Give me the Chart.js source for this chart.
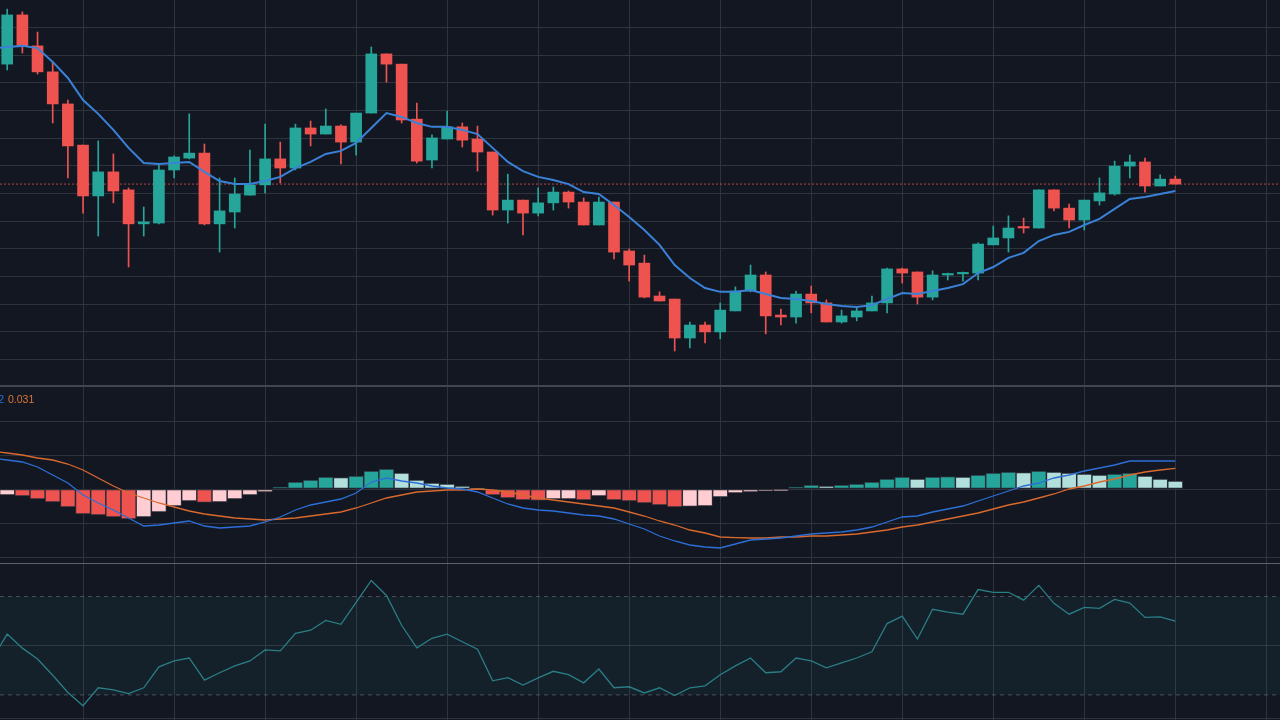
<!DOCTYPE html>
<html><head><meta charset="utf-8">
<script src="https://cdn.jsdelivr.net/npm/chart.js@4.4.1/dist/chart.umd.min.js"></script>
<style>
html,body{margin:0;padding:0;background:#131722;width:1280px;height:720px;overflow:hidden;}
canvas{position:absolute;left:0;display:block;}
.sep{position:absolute;left:0;width:1280px;}
</style></head><body>
<canvas id="main" width="1280" height="385" style="top:0;width:1280px;height:385px"></canvas>
<div class="sep" style="top:385px;height:2px;background:#434651"></div>
<canvas id="macd" width="1280" height="176" style="top:387px;width:1280px;height:176px"></canvas>
<div class="sep" style="top:563px;height:1px;background:#5d606b"></div>
<canvas id="rsi" width="1280" height="156" style="top:564px;width:1280px;height:156px"></canvas>
<script>
// ---- candle data (index 0..77) ----
const open = [176.8,194.6,183.4,174.0,162.4,147.5,129.1,137.8,131.3,119.0,
119.3,138.5,142.8,144.6,119.0,123.3,129.4,133.1,142.5,139.2,
153.7,151.5,154.4,148.6,159.1,180.5,176.8,156.9,142.1,149.7,
154.1,149.7,145.0,124.0,127.6,122.9,126.6,130.5,126.9,118.6,
126.9,109.2,104.8,92.9,91.8,77.7,82.4,79.9,87.5,94.7,
100.5,86.0,85.3,93.6,90.4,83.5,85.3,87.5,90.4,102.7,
101.6,92.5,100.5,100.9,101.2,111.4,113.9,117.9,117.5,131.3,
124.7,120.4,127.3,129.8,139.9,141.4,132.7,135.2];
const high = [196.7,195.7,188.4,177.6,163.8,147.5,149.0,144.3,132.0,125.1,
140.3,143.6,158.8,147.9,135.6,135.6,145.7,155.1,148.6,155.1,
156.2,160.6,154.8,159.1,183.0,180.5,176.8,162.7,151.2,159.8,
155.5,154.4,145.0,137.0,127.6,132.0,132.3,130.9,128.4,128.7,
126.9,109.9,107.7,94.4,91.8,83.5,83.5,90.4,96.2,104.1,
101.6,88.2,94.7,96.5,91.5,87.8,88.6,92.9,103.0,103.0,
101.6,102.0,101.2,101.6,112.1,118.2,121.9,121.1,131.3,131.3,
126.2,127.6,135.6,141.7,143.9,142.8,136.7,136.3];
const low = [174.7,180.8,173.2,155.5,135.6,122.9,114.6,126.6,103.4,114.6,
119.0,135.6,142.5,118.6,108.8,117.5,129.4,130.2,133.8,138.5,
147.2,151.5,140.7,143.9,159.1,170.3,155.5,141.0,139.2,149.7,
146.8,138.1,122.2,119.3,115.0,121.9,124.0,124.7,118.6,118.6,
106.3,98.3,92.2,91.1,73.0,74.1,75.9,77.4,87.5,94.4,
79.2,82.4,83.1,86.8,83.5,83.1,83.9,87.5,86.8,97.6,
90.0,91.5,98.7,98.3,98.7,111.4,108.8,115.7,117.5,123.7,
117.5,116.8,125.8,129.4,135.6,130.5,132.7,133.4];
const close = [194.6,183.4,174.0,162.4,147.2,129.1,137.8,130.9,119.0,119.7,
138.5,143.2,144.6,119.0,123.7,129.8,133.1,142.5,139.2,153.7,
151.5,154.4,148.6,159.1,180.5,176.8,156.6,141.7,150.1,154.1,
149.3,145.0,124.0,127.6,122.9,126.6,130.5,126.9,118.6,126.9,
108.8,104.1,92.5,91.1,77.7,82.4,79.9,87.8,94.7,100.5,
85.7,85.3,93.6,90.4,83.5,85.7,87.5,90.4,102.7,101.2,
92.5,100.5,100.9,101.2,111.7,113.9,117.5,117.5,131.3,124.7,
120.4,127.6,130.2,139.9,141.4,132.7,135.2,133.4];

// ---- indicator data (index -1..77) ----
const FIRST_INDICATOR_INDEX = -1;
const ma = [182.5, 183.0,183.4,182.6,177.6,171.8,163.8,158.8,153.0,146.5,141.0,
140.7,141.0,141.4,137.8,134.5,133.4,133.4,134.5,136.0,139.2,
141.4,144.3,145.4,148.3,153.7,159.1,157.7,155.5,154.1,154.1,
153.0,151.5,146.5,141.4,138.1,136.0,134.9,133.4,130.5,129.8,
125.8,121.5,116.8,111.4,104.1,99.4,95.8,94.4,94.4,95.1,
93.6,92.2,91.8,91.1,90.0,89.3,88.9,89.6,91.8,94.0,
93.6,94.7,95.8,97.2,101.2,103.4,106.7,108.5,112.8,115.0,
116.1,118.6,120.8,124.4,128.0,128.7,129.8,130.9];
const macd = [0.0465, 0.0435,0.0405,0.033,0.021,0.009,-0.009,-0.021,-0.0315,-0.0435,-0.0555,
-0.054,-0.051,-0.048,-0.0555,-0.0585,-0.057,-0.0555,-0.0495,-0.042,-0.0315,
-0.024,-0.0195,-0.015,-0.006,0.0105,0.0165,0.012,0.009,0.0045,0.0015,
0,-0.0045,-0.0135,-0.0225,-0.0285,-0.0315,-0.033,-0.036,-0.039,-0.0405,
-0.045,-0.0525,-0.06,-0.0705,-0.078,-0.084,-0.087,-0.0885,-0.0825,-0.0765,
-0.075,-0.0735,-0.0705,-0.0675,-0.066,-0.0645,-0.0615,-0.057,-0.0495,-0.042,
-0.0405,-0.0345,-0.03,-0.0255,-0.018,-0.0105,-0.003,0.0045,0.009,0.0165,
0.021,0.027,0.0315,0.036,0.042,0.042,0.042,0.042];
const signal = [0.057, 0.054,0.051,0.0465,0.0435,0.0375,0.0285,0.0165,0.0045,-0.006,-0.0135,
-0.021,-0.027,-0.033,-0.0375,-0.0405,-0.0435,-0.045,-0.0465,-0.045,-0.0435,
-0.0405,-0.0375,-0.0345,-0.0285,-0.021,-0.0135,-0.009,-0.0045,-0.003,-0.0015,
-0.0015,0,-0.0015,-0.0045,-0.009,-0.0135,-0.0165,-0.0195,-0.0225,-0.0255,
-0.0285,-0.0345,-0.0405,-0.048,-0.054,-0.0615,-0.066,-0.072,-0.073,-0.0735,
-0.0735,-0.072,-0.072,-0.0705,-0.0705,-0.069,-0.0675,-0.0645,-0.0615,-0.057,
-0.054,-0.0495,-0.045,-0.0405,-0.036,-0.03,-0.024,-0.0195,-0.0135,-0.0075,
0,0.0045,0.0105,0.015,0.021,0.0255,0.0285,0.031];
const hist = [-0.0105, -0.009,-0.0105,-0.015,-0.0195,-0.027,-0.0375,-0.039,-0.042,-0.045,-0.042,
-0.0345,-0.0255,-0.018,-0.02,-0.0195,-0.015,-0.009,-0.0045,0.003,0.0105,
0.0135,0.018,0.0173,0.0195,0.027,0.03,0.024,0.0135,0.009,0.0075,
0.0045,0.0015,-0.009,-0.0135,-0.0165,-0.017,-0.015,-0.0147,-0.0165,-0.0105,
-0.0165,-0.018,-0.021,-0.024,-0.027,-0.026,-0.0255,-0.012,-0.006,-0.0045,
-0.003,-0.0025,0.003,0.006,0.0045,0.006,0.0075,0.0105,0.015,0.018,
0.015,0.018,0.0188,0.018,0.021,0.024,0.0255,0.0248,0.027,0.0255,
0.024,0.0225,0.021,0.0225,0.024,0.0195,0.015,0.012];
const rsi = [44.6, 54.7,49,44.6,38,31,25.6,32.9,32,30.5,32.9,
41.4,43.8,45,36,39,41.8,43.8,48.3,47.9,55,
56.3,60.3,58.7,67.6,76.5,70.4,58.3,49.1,53,54.7,
51.6,48.6,35.7,37,34,36.9,39.6,38.2,34.9,40.5,
32.9,33.3,30.8,32.9,29.7,32.9,33.7,38.2,41.8,45,
39,39.4,45,43.8,41,43,45,47.5,59,62,
52.7,64.8,63.6,62.8,72.8,71.7,71.7,68.5,74.5,67.2,
62.8,65.6,65.2,68.8,67.3,61.5,61.7,60];
const RSI_UPPER = 70, RSI_LOWER = 30;

// ---- axis ticks ----
const X_MIN = -0.4746, X_MAX = 83.9;
const xGridTicks = [5,11,17,23,29,35,41,47,53,59,65,71,77,83];
const priceTicks = [70,80,90,100,110,120,130,140,150,160,170,180,190];
const PRICE_MIN = 60.7, PRICE_MAX = 200;
const macdTicks = [-0.102,-0.051,0,0.051,0.102];
const MACD_MIN = -0.111, MACD_MAX = 0.153;
const rsiTicks = [20.5, 50];
const RSI_MIN = 19.8, RSI_MAX = 83.2;

// ---- styling ----
const GRID = '#2f333e';
const UP = '#26a69a', DOWN = '#ef5350';

const candleIdx = open.map((_, i) => i);
const indIdx = ma.map((_, k) => k + FIRST_INDICATOR_INDEX);
const candleColors = candleIdx.map(i => close[i] >= open[i] ? UP : DOWN);
const lastClose = close[close.length - 1];

function xScale() {
  return { type:'linear', min:X_MIN, max:X_MAX, offset:false, display:true,
    ticks:{display:false}, grid:{color:GRID, drawTicks:false, lineWidth:1, offset:false}, border:{display:false},
    afterBuildTicks: s => { s.ticks = xGridTicks.map(v => ({value:v})); },
    afterFit: s => { s.height = 0; } };
}
function yScale(min, max, ticks) {
  return { type:'linear', min, max, display:true,
    ticks:{display:false}, grid:{color:GRID, drawTicks:false, lineWidth:1, offset:false}, border:{display:false},
    afterBuildTicks: s => { s.ticks = ticks.map(v => ({value:v})); },
    afterFit: s => { s.width = 0; } };
}
const common = { responsive:false, animation:false, devicePixelRatio:1, events:[],
  layout:{padding:0}, plugins:{legend:{display:false}, tooltip:{enabled:false}} };

// ---- main price chart ----
new Chart(document.getElementById('main'), {
  type:'bar',
  data:{ datasets:[
    { type:'line', data: indIdx.map((x,k) => ({x, y:ma[k]})), borderColor:'#3a82d8', borderWidth:2,
      pointRadius:0, tension:0, fill:false },
    { type:'bar', data: candleIdx.map(i => ({x:i, y:[open[i], close[i]]})), backgroundColor:candleColors,
      borderWidth:0, barThickness:11, minBarLength:1.5, grouped:false },
    { type:'bar', data: candleIdx.map(i => ({x:i, y:[low[i], high[i]]})), backgroundColor:candleColors,
      borderWidth:0, barThickness:1, grouped:false },
    { type:'line', data:[{x:X_MIN, y:lastClose}, {x:X_MAX, y:lastClose}], borderColor:'rgba(239,83,80,0.75)',
      borderWidth:1, borderDash:[2,2], pointRadius:0, fill:false }
  ]},
  options: Object.assign({}, common, { scales:{ x:xScale(), y:yScale(PRICE_MIN, PRICE_MAX, priceTicks) } })
});

// ---- MACD chart ----
const histColors = hist.map((v, k) => {
  const p = k > 0 ? hist[k-1] : v;
  return v >= 0 ? (v >= p ? '#26a69a' : '#b2dfdb') : (v < p ? '#ef5350' : '#ffcdd2');
});
const labelPlugin = { id:'macdLabels', afterDraw(chart) {
  const ctx = chart.ctx; ctx.save();
  ctx.font = '10.5px "Liberation Sans", Arial, sans-serif'; ctx.textBaseline = 'middle';
  ctx.fillStyle = '#2d6fd6'; ctx.textAlign = 'right';
  ctx.fillText(macd[macd.length-1].toFixed(3), 4, 13);
  ctx.fillStyle = '#d9773a'; ctx.textAlign = 'left';
  ctx.fillText(signal[signal.length-1].toFixed(3), 8, 13);
  ctx.restore();
}};
new Chart(document.getElementById('macd'), {
  type:'bar',
  data:{ datasets:[
    { type:'line', data: indIdx.map((x,k) => ({x, y:macd[k]})), borderColor:'#2d6fd6', borderWidth:1.3, pointRadius:0, fill:false },
    { type:'line', data: indIdx.map((x,k) => ({x, y:signal[k]})), borderColor:'#d9692d', borderWidth:1.3, pointRadius:0, fill:false },
    { type:'bar', data: indIdx.map((x,k) => ({x, y:hist[k]})), backgroundColor:histColors,
      borderColor:'#2a2e39', borderWidth:1, borderSkipped:false, barThickness:15, grouped:false }
  ]},
  options: Object.assign({}, common, { scales:{ x:xScale(), y:yScale(MACD_MIN, MACD_MAX, macdTicks) } }),
  plugins:[labelPlugin]
});

// ---- RSI chart ----
new Chart(document.getElementById('rsi'), {
  type:'line',
  data:{ datasets:[
    { data: indIdx.map((x,k) => ({x, y:rsi[k]})), borderColor:'#2a7e85', borderWidth:1.3, pointRadius:0, fill:false },
    { data:[{x:X_MIN, y:RSI_UPPER}, {x:X_MAX, y:RSI_UPPER}], borderColor:'rgba(120,123,134,0.55)', borderWidth:1,
      borderDash:[4,4], pointRadius:0, fill:'+1', backgroundColor:'rgba(38,166,154,0.07)' },
    { data:[{x:X_MIN, y:RSI_LOWER}, {x:X_MAX, y:RSI_LOWER}], borderColor:'rgba(120,123,134,0.55)', borderWidth:1,
      borderDash:[4,4], pointRadius:0, fill:false }
  ]},
  options: Object.assign({}, common, { scales:{ x:xScale(), y:yScale(RSI_MIN, RSI_MAX, rsiTicks) } })
});
</script>
</body></html>
